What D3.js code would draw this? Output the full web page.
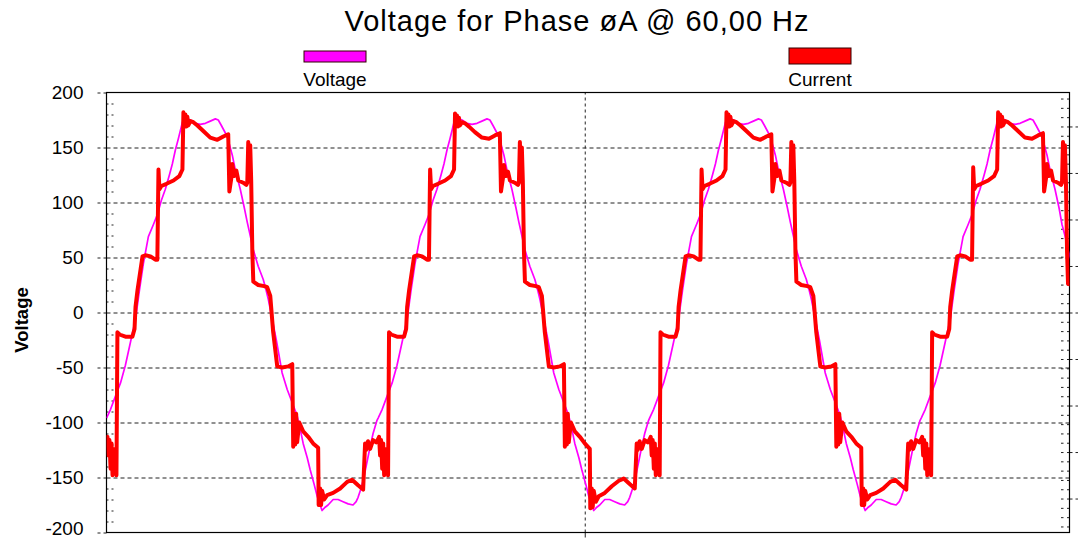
<!DOCTYPE html>
<html>
<head>
<meta charset="utf-8">
<script src="https://cdn.jsdelivr.net/npm/d3@7"></script>
<style>
  html, body { margin: 0; padding: 0; background: #fff; }
  svg { display: block; font-family: "Liberation Sans", Arial, sans-serif; }
</style>
</head>
<body>
<svg id="chart" width="1078" height="541"></svg>
<script>
// ---- chart text ----
const titleText = "Voltage for Phase \u00f8A @ 60,00 Hz";
const seriesNames = ["Voltage", "Current"];
const yAxisTitle = "Voltage";

// ---- axes ----
const yTicks = [200, 150, 100, 50, 0, -50, -100, -150, -200];
const xDomainMs = [0, 59.1];          // time window shown (ms)
const xGridMs = [29.35];              // single vertical grid line
const rightDomain = [-47.3, 47.3];    // secondary (current) axis, labels off-canvas
const rightTicks = [-40, -30, -20, -10, 0, 10, 20, 30, 40];

// ---- current samples [ms, value] ----
const currentLeadIn = [[0.00,-115],[0.06,-113],[0.12,-130],[0.18,-116],[0.25,-142],[0.31,-119],[0.37,-148],[0.43,-124],[0.49,-145],[0.55,-128],[0.61,-148]];

const currentCycle1 = [[0.67,-18],[0.80,-20],[1.16,-22],[1.59,-22],[1.72,-15],[1.78,5],[1.90,20],[2.21,51],[2.39,52],[2.70,51],[3.00,48],[3.12,48],[3.19,130],[3.25,112],[3.37,115],[3.68,117],[4.11,120],[4.47,124],[4.66,130],[4.72,182],[4.78,170],[4.84,180],[4.90,169],[4.96,178],[5.02,170],[5.15,174],[5.33,173],[5.58,170],[5.94,165],[6.37,159],[6.80,157],[7.17,160],[7.47,162],[7.54,110],[7.66,122],[7.72,135],[7.84,124],[7.97,129],[8.09,120],[8.39,118],[8.58,116],[8.64,118],[8.70,155],[8.76,125],[8.82,152],[8.88,120],[8.95,55],[9.01,28],[9.31,25],[9.68,24],[9.86,23],[10.05,15],[10.23,-18],[10.48,-49],[10.78,-50],[11.15,-49],[11.40,-47],[11.46,-122],[11.52,-95],[11.58,-120],[11.64,-92],[11.70,-118],[11.83,-100],[12.07,-108],[12.38,-113],[12.68,-119],[12.99,-123],[13.02,-175],[13.11,-160],[13.17,-175],[13.23,-162],[13.36,-170],[13.54,-166],[13.91,-164],[14.34,-160],[14.77,-154],[15.07,-152],[15.44,-157],[15.75,-161],[15.87,-119],[15.93,-125],[16.05,-117],[16.18,-124],[16.36,-116],[16.55,-118],[16.67,-115],[16.73,-113],[16.79,-130],[16.85,-116],[16.92,-142],[16.98,-119],[17.04,-148],[17.10,-124],[17.16,-145],[17.22,-128],[17.28,-148]];

const currentCycle2 = [[17.34,-18],[17.47,-20],[17.83,-22],[18.26,-22],[18.39,-15],[18.45,5],[18.57,20],[18.88,51],[19.06,52],[19.37,51],[19.67,48],[19.79,48],[19.86,130],[19.92,112],[20.04,115],[20.35,117],[20.78,120],[21.14,124],[21.33,130],[21.39,181],[21.45,170],[21.51,179],[21.57,169],[21.63,177],[21.69,170],[21.82,173],[22.00,172],[22.25,169],[22.61,164],[23.04,159],[23.47,158],[23.84,161],[24.14,163],[24.21,110],[24.33,122],[24.39,134],[24.51,124],[24.64,128],[24.76,120],[25.06,118],[25.25,116],[25.31,118],[25.37,155],[25.43,125],[25.49,150],[25.55,120],[25.62,55],[25.68,28],[25.98,25],[26.35,24],[26.53,23],[26.72,15],[26.90,-18],[27.15,-49],[27.45,-50],[27.82,-49],[28.07,-47],[28.13,-122],[28.19,-95],[28.25,-120],[28.31,-92],[28.37,-118],[28.50,-100],[28.74,-108],[29.05,-113],[29.35,-119],[29.66,-124],[29.69,-178],[29.78,-160],[29.84,-177],[29.90,-162],[30.03,-172],[30.21,-167],[30.58,-164],[31.01,-158],[31.44,-153],[31.74,-151],[32.11,-156],[32.42,-160],[32.54,-119],[32.60,-125],[32.72,-117],[32.85,-124],[33.03,-116],[33.22,-118],[33.34,-115],[33.40,-113],[33.46,-130],[33.52,-116],[33.59,-142],[33.65,-119],[33.71,-148],[33.77,-124],[33.83,-145],[33.89,-128],[33.95,-148]];

const currentCycle3 = [[34.00,-18],[34.13,-20],[34.49,-22],[34.92,-22],[35.05,-15],[35.11,5],[35.23,20],[35.54,51],[35.72,52],[36.03,51],[36.33,48],[36.45,48],[36.52,130],[36.58,112],[36.70,115],[37.01,117],[37.44,120],[37.80,124],[37.99,130],[38.05,182],[38.11,170],[38.17,180],[38.23,169],[38.29,178],[38.35,170],[38.48,174],[38.66,173],[38.91,170],[39.27,165],[39.70,159],[40.13,157],[40.50,160],[40.80,162],[40.87,110],[40.99,122],[41.05,135],[41.17,124],[41.30,129],[41.42,120],[41.72,118],[41.91,116],[41.97,118],[42.03,155],[42.09,125],[42.15,152],[42.21,120],[42.28,55],[42.34,28],[42.64,25],[43.01,24],[43.19,23],[43.38,15],[43.56,-18],[43.81,-49],[44.11,-50],[44.48,-49],[44.73,-47],[44.79,-122],[44.85,-95],[44.91,-120],[44.97,-92],[45.03,-118],[45.16,-100],[45.40,-108],[45.71,-113],[46.01,-119],[46.32,-123],[46.35,-175],[46.44,-160],[46.50,-175],[46.56,-162],[46.69,-170],[46.87,-166],[47.24,-164],[47.67,-160],[48.10,-154],[48.40,-152],[48.77,-157],[49.08,-161],[49.20,-119],[49.26,-125],[49.38,-117],[49.51,-124],[49.69,-116],[49.88,-118],[50.00,-115],[50.06,-113],[50.12,-130],[50.18,-116],[50.25,-142],[50.31,-119],[50.37,-148],[50.43,-124],[50.49,-145],[50.55,-128],[50.61,-148]];

const currentCycle4 = [[50.67,-18],[50.80,-20],[51.16,-22],[51.59,-22],[51.72,-15],[51.78,5],[51.90,20],[52.21,51],[52.39,52],[52.70,51],[53.00,48],[53.12,48],[53.19,132],[53.25,112],[53.37,115],[53.68,117],[54.11,120],[54.47,124],[54.66,130],[54.72,182],[54.78,170],[54.84,180],[54.90,169],[54.96,178],[55.02,170],[55.15,174],[55.33,173],[55.58,170],[55.94,165],[56.37,159],[56.80,158],[57.17,161],[57.47,163],[57.54,110],[57.66,122],[57.72,135],[57.84,124],[57.97,129],[58.09,120],[58.39,118],[58.58,116],[58.64,118],[58.70,155],[58.76,125],[58.82,152],[58.88,120],[58.95,55],[59.01,26],[59.31,25]];

// ---- voltage samples [ms, value] ----
const voltageCycle1 = [[0.00,-96],[0.25,-88],[0.55,-76],[0.86,-64],[1.16,-48],[1.47,-27],[1.78,-6],[2.02,20],[2.27,45],[2.57,69],[2.88,80],[3.12,89],[3.37,102],[3.61,112],[3.86,125],[4.04,135],[4.23,148],[4.41,158],[4.66,173],[4.84,177],[5.15,175],[5.45,172],[5.76,171],[6.07,172],[6.37,174],[6.68,176],[6.86,175],[7.05,170],[7.23,165],[7.41,160],[7.72,143],[7.90,130],[8.21,112],[8.46,95],[8.64,82],[8.82,70],[9.01,57],[9.31,42],[9.62,30],[9.80,20],[9.93,12],[10.17,-6],[10.42,-25],[10.78,-55],[11.09,-70],[11.40,-82],[11.70,-94],[11.89,-106],[12.07,-119],[12.32,-132],[12.50,-143],[12.74,-156],[12.93,-167],[13.11,-175],[13.23,-180],[13.42,-177],[13.60,-175],[13.91,-170],[14.21,-170],[14.52,-172],[14.83,-174],[15.13,-175],[15.32,-172],[15.44,-168],[15.62,-160],[15.75,-153],[15.93,-140],[16.18,-122],[16.36,-110],[16.60,-98]];

const voltageCycle2 = [[16.67,-96],[16.92,-88],[17.22,-76],[17.53,-64],[17.83,-48],[18.14,-27],[18.45,-6],[18.69,20],[18.94,45],[19.24,69],[19.55,80],[19.79,89],[20.04,102],[20.28,112],[20.53,125],[20.71,135],[20.90,148],[21.08,158],[21.33,173],[21.51,177],[21.82,175],[22.12,172],[22.43,171],[22.74,172],[23.04,174],[23.35,176],[23.53,175],[23.72,170],[23.90,165],[24.08,160],[24.39,143],[24.57,130],[24.88,112],[25.13,95],[25.31,82],[25.49,70],[25.68,57],[25.98,42],[26.29,30],[26.47,20],[26.60,12],[26.84,-6],[27.09,-25],[27.45,-55],[27.76,-70],[28.07,-82],[28.37,-94],[28.56,-106],[28.74,-119],[28.99,-132],[29.17,-143],[29.41,-156],[29.60,-167],[29.78,-175],[29.90,-180],[30.09,-177],[30.27,-175],[30.58,-170],[30.88,-170],[31.19,-172],[31.50,-174],[31.80,-175],[31.99,-172],[32.11,-168],[32.29,-160],[32.42,-153],[32.60,-140],[32.85,-122],[33.03,-110],[33.27,-98]];

const voltageCycle3 = [[33.33,-96],[33.58,-88],[33.88,-76],[34.19,-64],[34.49,-48],[34.80,-27],[35.11,-6],[35.35,20],[35.60,45],[35.90,69],[36.21,80],[36.45,89],[36.70,102],[36.94,112],[37.19,125],[37.37,135],[37.56,148],[37.74,158],[37.99,173],[38.17,177],[38.48,175],[38.78,172],[39.09,171],[39.40,172],[39.70,174],[40.01,176],[40.19,175],[40.38,170],[40.56,165],[40.74,160],[41.05,143],[41.23,130],[41.54,112],[41.79,95],[41.97,82],[42.15,70],[42.34,57],[42.64,42],[42.95,30],[43.13,20],[43.26,12],[43.50,-6],[43.75,-25],[44.11,-55],[44.42,-70],[44.73,-82],[45.03,-94],[45.22,-106],[45.40,-119],[45.65,-132],[45.83,-143],[46.07,-156],[46.26,-167],[46.44,-175],[46.56,-180],[46.75,-177],[46.93,-175],[47.24,-170],[47.54,-170],[47.85,-172],[48.16,-174],[48.46,-175],[48.65,-172],[48.77,-168],[48.95,-160],[49.08,-153],[49.26,-140],[49.51,-122],[49.69,-110],[49.93,-98]];

const voltageCycle4 = [[50.00,-96],[50.25,-88],[50.55,-76],[50.86,-64],[51.16,-48],[51.47,-27],[51.78,-6],[52.02,20],[52.27,45],[52.57,69],[52.88,80],[53.12,89],[53.37,102],[53.61,112],[53.86,125],[54.04,135],[54.23,148],[54.41,158],[54.66,173],[54.84,177],[55.15,175],[55.45,172],[55.76,171],[56.07,172],[56.37,174],[56.68,176],[56.86,175],[57.05,170],[57.23,165],[57.41,160],[57.72,143],[57.90,130],[58.21,112],[58.46,95],[58.64,80],[58.82,70],[59.01,57],[59.31,42]];

const voltageSeries = [].concat(voltageCycle1, voltageCycle2, voltageCycle3, voltageCycle4);
const currentSeries = [].concat(currentLeadIn, currentCycle1, currentCycle2, currentCycle3, currentCycle4);

// ---- layout ----
const plot = { left: 106.5, right: 1069.5, top: 92.5, bottom: 532.5 };
const colors = { voltage: "#ff00ff", current: "#ff0000", ink: "#000" };

const svg = d3.select("#chart");
svg.append("rect").attr("width", 1078).attr("height", 541).attr("fill", "#fff");

const x = d3.scaleLinear().domain(xDomainMs).range([plot.left, plot.right]);
const y = d3.scaleLinear().domain([-200, 200]).range([plot.bottom, plot.top]);
const yR = d3.scaleLinear().domain(rightDomain).range([plot.bottom, plot.top]);

// horizontal grid
svg.append("g")
  .attr("transform", `translate(${plot.left},0)`)
  .call(d3.axisLeft(y).tickValues(yTicks.filter(v => Math.abs(v) < 200))
        .tickSize(-(plot.right - plot.left)).tickFormat(""))
  .call(g => g.select(".domain").remove())
  .call(g => g.selectAll("line").attr("stroke", "#222").attr("stroke-dasharray", "4,3"));

// vertical grid + its x tick
svg.append("g")
  .attr("transform", `translate(0,${plot.bottom})`)
  .call(d3.axisBottom(x).tickValues(xGridMs).tickSizeInner(-(plot.bottom - plot.top)).tickSizeOuter(0).tickFormat(""))
  .call(g => g.select(".domain").remove())
  .call(g => g.selectAll("line").attr("stroke", "#222").attr("stroke-dasharray", "3,3"));
svg.append("g")
  .attr("transform", `translate(0,${plot.bottom})`)
  .call(d3.axisBottom(x).tickValues(xGridMs).tickSize(5).tickFormat(""))
  .call(g => g.select(".domain").remove())
  .call(g => g.selectAll("line").attr("stroke", "#222"));

// left minor ticks (inside)
const yMinor = d3.range(-190, 200, 10).filter(v => v % 50 !== 0);
svg.append("g")
  .attr("transform", `translate(${plot.left},0)`)
  .call(d3.axisRight(y).tickValues(yMinor).tickSize(9).tickFormat(""))
  .call(g => g.select(".domain").remove())
  .call(g => g.selectAll("line").attr("stroke", "#222").attr("stroke-dasharray", "2,3"));

// right axis ticks (secondary scale)
const rMinor = d3.range(-46, 47, 2).filter(v => v % 10 !== 0);
svg.append("g")
  .attr("transform", `translate(${plot.right},0)`)
  .call(d3.axisLeft(yR).tickValues(rMinor.concat(rightTicks)).tickSize(9).tickFormat(""))
  .call(g => g.select(".domain").remove())
  .call(g => g.selectAll("line").attr("stroke", "#222").attr("stroke-dasharray", "2.5,3.5"));
svg.append("g")
  .attr("transform", `translate(${plot.right},0)`)
  .call(d3.axisRight(yR).tickValues(rightTicks).tickSize(9).tickFormat(""))
  .call(g => g.select(".domain").remove())
  .call(g => g.selectAll("line").attr("stroke", "#222").attr("stroke-dasharray", "3,3"));

// left axis: major ticks + labels (plain hyphen for negatives)
svg.append("g")
  .attr("transform", `translate(${plot.left},0)`)
  .call(d3.axisLeft(y).tickValues(yTicks).tickSize(10).tickPadding(13).tickFormat(d => String(d)))
  .call(g => g.select(".domain").remove())
  .call(g => g.selectAll("line").attr("stroke", "#222").attr("stroke-dasharray", "3,3"))
  .call(g => g.selectAll("text")
      .attr("fill", colors.ink)
      .attr("font-size", 19)
      .attr("font-family", "Liberation Sans, Arial, sans-serif")
      .attr("dy", d => d === -200 ? "0.12em" : "0.34em"));

// plot frame
svg.append("rect")
  .attr("x", plot.left).attr("y", plot.top)
  .attr("width", plot.right - plot.left).attr("height", plot.bottom - plot.top)
  .attr("fill", "none").attr("stroke", colors.ink).attr("stroke-width", 1.2);

// series
svg.append("clipPath").attr("id", "plotClip")
  .append("rect")
  .attr("x", plot.left).attr("y", plot.top - 2)
  .attr("width", plot.right - plot.left).attr("height", plot.bottom - plot.top + 4);

const line = d3.line().x(d => x(d[0])).y(d => y(d[1]));
const series = svg.append("g").attr("clip-path", "url(#plotClip)");
series.append("path")
  .datum(voltageSeries)
  .attr("d", line)
  .attr("fill", "none")
  .attr("stroke", colors.voltage)
  .attr("stroke-width", 1.7)
  .attr("stroke-linejoin", "round");
series.append("path")
  .datum(currentSeries)
  .attr("d", line)
  .attr("fill", "none")
  .attr("stroke", colors.current)
  .attr("stroke-width", 4)
  .attr("stroke-linejoin", "round");

// title
svg.append("text")
  .attr("x", 577).attr("y", 31)
  .attr("text-anchor", "middle")
  .attr("font-size", 29)
  .attr("letter-spacing", 1)
  .attr("fill", colors.ink)
  .text(titleText);

// legend
const legend = [
  { name: seriesNames[0], color: colors.voltage, cx: 335, y0: 51, h: 11 },
  { name: seriesNames[1], color: colors.current, cx: 820, y0: 48, h: 16 }
];
const lg = svg.append("g").selectAll("g").data(legend).join("g");
lg.append("rect")
  .attr("x", d => d.cx - 31).attr("y", d => d.y0)
  .attr("width", 62).attr("height", d => d.h)
  .attr("fill", d => d.color)
  .attr("stroke", "#300").attr("stroke-width", 1);
lg.append("text")
  .attr("x", d => d.cx).attr("y", 86)
  .attr("text-anchor", "middle")
  .attr("font-size", 19)
  .attr("fill", colors.ink)
  .text(d => d.name);

// y axis title
svg.append("text")
  .attr("transform", "translate(28,320) rotate(-90)")
  .attr("text-anchor", "middle")
  .attr("font-size", 18.5)
  .attr("font-weight", "bold")
  .attr("fill", colors.ink)
  .text(yAxisTitle);
</script>
</body>
</html>
